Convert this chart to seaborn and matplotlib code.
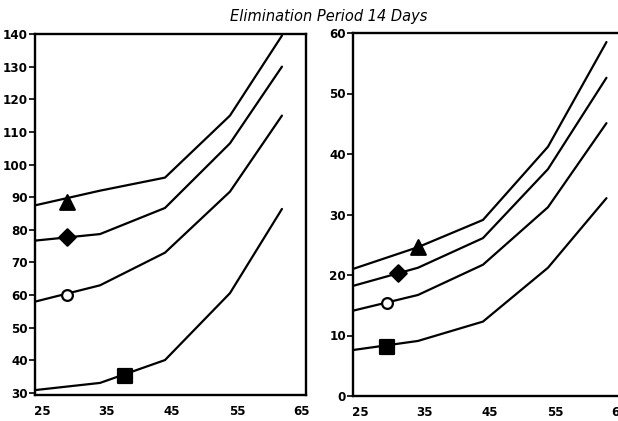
import matplotlib
matplotlib.use("Agg")
import matplotlib.pyplot as plt
import matplotlib.transforms as mtransforms
import seaborn as sns
import pandas as pd

# ---- data ----
ages = [25, 35, 45, 55, 63]
left_triangle = [87.5, 92.0, 96.0, 115.0, 139.5]
left_diamond = [76.7, 78.7, 86.7, 106.5, 130.0]
left_circle = [58.0, 63.0, 73.0, 91.7, 115.0]
left_square = [30.9, 33.1, 40.1, 60.6, 86.4]

ages_right = [25, 35, 45, 55, 64]
right_triangle = [21.0, 24.6, 29.1, 41.2, 58.5]
right_diamond = [18.2, 21.2, 26.1, 37.5, 52.6]
right_circle = [14.1, 16.7, 21.7, 31.2, 45.1]
right_square = [7.6, 9.1, 12.3, 21.2, 32.7]

# marker positions on each curve
left_marker_x = [30, 30, 30, 38.8]
left_marker_y = [88.6, 77.9, 60.0, 35.3]
right_marker_x = [35, 31.9, 30.2, 30.2]
right_marker_y = [24.6, 20.3, 15.4, 8.1]

series_names = ["triangle", "diamond", "circle", "square"]
left_yticks = [30, 40, 50, 60, 70, 80, 90, 100, 110, 120, 130, 140]
right_yticks = [0, 10, 20, 30, 40, 50, 60]
xticks = [25, 35, 45, 55, 65]
title = "Elimination Period 14 Days"

# ---- build tables ----
def long_table(x, ys):
    rows = []
    for name, vals in zip(series_names, ys):
        for xi, yi in zip(x, vals):
            rows.append({"age": xi, "value": yi, "series": name})
    return pd.DataFrame(rows)

left_df = long_table(ages, [left_triangle, left_diamond, left_circle, left_square])
right_df = long_table(ages_right, [right_triangle, right_diamond, right_circle, right_square])
left_mk = pd.DataFrame({"age": left_marker_x, "value": left_marker_y, "series": series_names})
right_mk = pd.DataFrame({"age": right_marker_x, "value": right_marker_y, "series": series_names})

sns.set_theme(style="white")
plt.rcParams["font.family"] = ["DejaVu Sans"]
plt.rcParams["text.color"] = "black"
plt.rcParams["xtick.color"] = "black"
plt.rcParams["ytick.color"] = "black"

fig = plt.figure(figsize=(6.18, 4.21), dpi=100)
W, H = 618, 421
ax_l = fig.add_axes([35 / W, (H - 395) / H, 271 / W, 361 / H])
ax_r = fig.add_axes([353 / W, (H - 396) / H, 271 / W, 363 / H])

marker_map = {"triangle": "^", "diamond": "D", "circle": "o", "square": "s"}
marker_size = {"triangle": 110, "diamond": 70, "circle": 60, "square": 95}

def draw(ax, df, mk, ylim, yticks):
    palette = {n: "black" for n in series_names}
    sns.lineplot(data=df, x="age", y="value", hue="series", palette=palette,
                 linewidth=1.6, legend=False, ax=ax, sort=True)
    for n in series_names:
        face = "white" if n == "circle" else "black"
        sub = mk[mk["series"] == n]
        sns.scatterplot(data=sub, x="age", y="value", marker=marker_map[n],
                        s=marker_size[n], color=face, edgecolor="black",
                        linewidth=1.6, legend=False, ax=ax, zorder=5)
    ax.set_xlim(25, 66.7)
    ax.set_ylim(*ylim)
    ax.set_xticks(xticks)
    ax.set_xticklabels([str(t) for t in xticks])
    ax.set_yticks(yticks)
    ax.set_yticklabels([str(t) for t in yticks])
    ax.set_xlabel("")
    ax.set_ylabel("")
    for s in ax.spines.values():
        s.set_visible(True)
        s.set_linewidth(1.7)
        s.set_color("black")
    ax.tick_params(axis="x", length=0, pad=7, labelsize=9.5, colors="black")
    ax.tick_params(axis="y", length=4, width=1.2, direction="out", left=True,
                   pad=1, labelsize=9.5, colors="black")
    offset = mtransforms.ScaledTranslation(7 / 100, 0, fig.dpi_scale_trans)
    for lab in ax.get_xticklabels():
        lab.set_transform(lab.get_transform() + offset)
        lab.set_fontweight("bold")
        lab.set_fontstretch("condensed")
    for lab in ax.get_yticklabels():
        lab.set_fontweight("bold")
        lab.set_fontstretch("condensed")
    ax.grid(False)

draw(ax_l, left_df, left_mk, (29.4, 140), left_yticks)
draw(ax_r, right_df, right_mk, (0, 60), right_yticks)

fig.text(329 / W, 1 - 16 / H, title, ha="center", va="center",
         fontsize=10.5, style="italic", color="black", family=["DejaVu Sans"])

fig.savefig("out.png", dpi=100)
